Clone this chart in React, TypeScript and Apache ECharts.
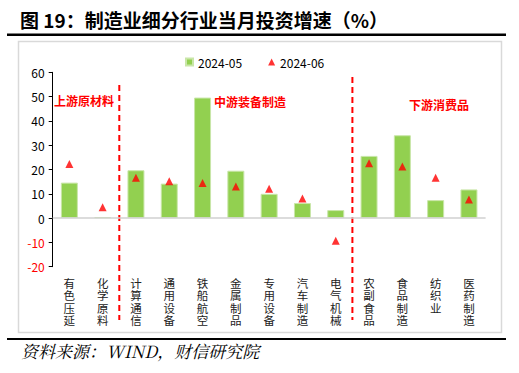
import React, { useEffect, useRef } from "react";
import * as echarts from "echarts";

const categories = ["有色压延", "化学原料", "计算通信", "通用设备", "铁船航空", "金属制品", "专用设备", "汽车制造", "电气机械", "农副食品", "食品制造", "纺织业", "医药制造"];
const may2024 = [14.6, 0.4, 19.7, 14.2, 49.6, 19.5, 10.0, 6.2, 3.3, 25.6, 34.1, 7.4, 11.8];
const jun2024 = [22.3, 4.5, 16.6, 15.2, 14.4, 13.0, 12.1, 8.1, -9.3, 22.6, 21.2, 16.6, 7.7];
const seriesNames = ["2024-05", "2024-06"];
const groupLabels = ["上游原材料", "中游装备制造", "下游消费品"];
const titleText = "图 19：制造业细分行业当月投资增速（%）";
const sourceText = "资料来源：WIND，财信研究院";

const FONT = "'Noto Sans CJK SC', 'Noto Sans', sans-serif";

export default function App() {
  const ref = useRef<HTMLDivElement>(null);
  useEffect(() => {
    if (!ref.current) return;
    const chart = echarts.init(ref.current, null, { renderer: "svg" });
    const option: any = {
      animation: false,
      textStyle: { fontFamily: FONT },
      grid: { left: 52.7, right: 33.4, top: 72.3, bottom: 106.3 },
      legend: {
        left: 180,
        top: 51,
        itemWidth: 7,
        itemHeight: 7,
        itemGap: 26,
        textStyle: { fontSize: 12, color: "#000", fontFamily: FONT },
        data: [
          { name: seriesNames[0], icon: "rect" },
          { name: seriesNames[1], icon: "triangle" },
        ],
      },
      xAxis: {
        type: "category",
        data: categories,
        axisLine: { show: false },
        axisTick: { show: false },
        axisLabel: {
          interval: 0,
          margin: 10,
          fontSize: 11.5,
          lineHeight: 12.5,
          color: "#222",
          verticalAlign: "top",
          formatter: (v: string) => v.split("").join("\n"),
        },
      },
      yAxis: {
        type: "value",
        min: -20,
        max: 60,
        interval: 10,
        splitLine: { show: false },
        axisLine: { show: true, lineStyle: { color: "#000", width: 1 } },
        axisTick: { show: true, length: 4, lineStyle: { color: "#000" } },
        axisLabel: {
          fontSize: 12,
          margin: 8,
          color: (v: any) => (Number(v) < 0 ? "#ff0000" : "#000"),
        },
      },
      series: [
        {
          name: seriesNames[0],
          type: "bar",
          data: may2024,
          barWidth: 17,
          itemStyle: { color: "#92D050", borderColor: "#c9e6a8", borderWidth: 1 },
          markLine: {
            silent: true,
            symbol: "none",
            label: { show: false },
            lineStyle: { type: "solid", color: "#d0d0d0", width: 1.5 },
            data: [{ yAxis: 0 }],
          },
        },
        {
          name: seriesNames[1],
          type: "scatter",
          data: jun2024,
          symbol: "triangle",
          symbolSize: 8,
          itemStyle: { color: "#ff0000" },
          z: 5,
        },
      ],
    };
    chart.setOption(option);

    const px = (i: number) => chart.convertToPixel({ xAxisIndex: 0 }, i) as number;
    const py = (v: number) => chart.convertToPixel({ yAxisIndex: 0 }, v) as number;
    const sep1 = (px(1) + px(2)) / 2;
    const sep2 = (px(8) + px(9)) / 2;
    const dash = { stroke: "#ff0000", lineWidth: 2, lineDash: [6, 4] };
    const redText = { fill: "#ff0000", fontSize: 12, fontWeight: "bold", fontFamily: FONT };

    chart.setOption({
      graphic: [
        { type: "text", left: 20, top: 10, style: { text: titleText, fontSize: 19, fontWeight: "bold", fill: "#000", fontFamily: FONT } },
        { type: "line", shape: { x1: 7, y1: 34.7, x2: 506, y2: 34.7 }, style: { stroke: "#000", lineWidth: 2.5 } },
        { type: "rect", shape: { x: 18.5, y: 41.5, width: 483, height: 291 }, style: { fill: "none", stroke: "#d9d9d9", lineWidth: 1.5 }, z: -1 },
        { type: "line", shape: { x1: 7, y1: 339, x2: 506, y2: 339 }, style: { stroke: "#000", lineWidth: 2 } },
        { type: "text", left: 21, top: 342, style: { text: sourceText, fontSize: 17, fontStyle: "italic", fill: "#000", fontFamily: "'Noto Serif CJK SC', serif" } },
        { type: "line", shape: { x1: sep1, y1: 85, x2: sep1, y2: 320 }, style: dash },
        { type: "line", shape: { x1: sep2, y1: 77, x2: sep2, y2: 320 }, style: dash },
        { type: "text", x: 54, y: py(48.5), style: { ...redText, text: groupLabels[0], verticalAlign: "middle" } },
        { type: "text", x: 214, y: py(47.8), style: { ...redText, text: groupLabels[1], verticalAlign: "middle" } },
        { type: "text", x: 409, y: py(46.8), style: { ...redText, text: groupLabels[2], verticalAlign: "middle" } },
      ],
    });
    return () => chart.dispose();
  }, []);
  return <div ref={ref} style={{ width: 519, height: 373, position: "absolute", left: 0, top: 0 }} />;
}
